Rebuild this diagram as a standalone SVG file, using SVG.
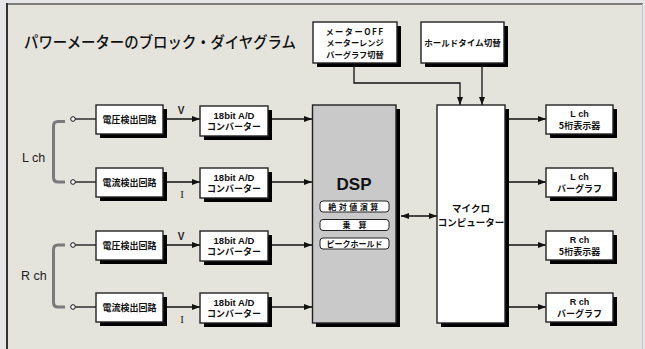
<svg xmlns="http://www.w3.org/2000/svg" width="645" height="349" viewBox="0 0 645 349">
<defs>
<style>
.bx{fill:#fff;stroke:#222;stroke-width:1.4}
.sh{fill:#000}
.t{font-family:"Noto Sans CJK JP","Liberation Sans",sans-serif;font-weight:bold;fill:#111;text-anchor:middle}
.ln{stroke:#111;stroke-width:1.3;fill:none}
.br{stroke:#7a7a7a;stroke-width:3;fill:none}
.lb{font-family:"Liberation Sans","Noto Sans CJK JP",sans-serif;fill:#222}
.en{font-family:"Liberation Sans",sans-serif}
</style>
<marker id="ah" viewBox="0 0 8 6" refX="8" refY="3" markerWidth="8" markerHeight="6" markerUnits="userSpaceOnUse" orient="auto-start-reverse">
<path d="M0,0 L8,3 L0,6 Z" fill="#111"/>
</marker>
</defs>
<rect x="0" y="0" width="645" height="349" fill="#e6e6e8"/>
<rect x="6" y="3" width="637" height="346" fill="#e4e3dc"/>
<line x1="6" y1="4" x2="643" y2="4" stroke="#7c7c7c" stroke-width="2"/>
<line x1="7" y1="3" x2="7" y2="349" stroke="#333" stroke-width="2"/>
<line x1="642.5" y1="4" x2="642.5" y2="349" stroke="#c8c8c8" stroke-width="1"/>

<text x="24" y="48" font-family="Noto Sans CJK JP,sans-serif" font-size="16" font-weight="500" fill="#111" textLength="272" lengthAdjust="spacingAndGlyphs">パワーメーターのブロック・ダイヤグラム</text>

<g id="connectors">
<polyline class="ln" points="354,63 354,83 460,83 460,105" marker-end="url(#ah)"/>
<line class="ln" x1="482" y1="63" x2="482" y2="105" marker-end="url(#ah)"/>
<g id="terminals">
<circle cx="73" cy="119" r="2.3" fill="#fff" stroke="#111" stroke-width="1"/>
<circle cx="73" cy="182" r="2.3" fill="#fff" stroke="#111" stroke-width="1"/>
<circle cx="73" cy="245" r="2.3" fill="#fff" stroke="#111" stroke-width="1"/>
<circle cx="73" cy="307" r="2.3" fill="#fff" stroke="#111" stroke-width="1"/>
</g>
<line class="ln" x1="75.3" y1="119" x2="96" y2="119"/>
<line class="ln" x1="75.3" y1="182" x2="96" y2="182"/>
<line class="ln" x1="75.3" y1="245" x2="96" y2="245"/>
<line class="ln" x1="75.3" y1="307" x2="96" y2="307"/>
<line class="ln" x1="163" y1="119" x2="200" y2="119" marker-end="url(#ah)"/>
<line class="ln" x1="163" y1="182" x2="200" y2="182" marker-end="url(#ah)"/>
<line class="ln" x1="163" y1="245" x2="200" y2="245" marker-end="url(#ah)"/>
<line class="ln" x1="163" y1="307" x2="200" y2="307" marker-end="url(#ah)"/>
<line class="ln" x1="272" y1="119" x2="312" y2="119" marker-end="url(#ah)"/>
<line class="ln" x1="272" y1="182" x2="312" y2="182" marker-end="url(#ah)"/>
<line class="ln" x1="272" y1="245" x2="312" y2="245" marker-end="url(#ah)"/>
<line class="ln" x1="272" y1="307" x2="312" y2="307" marker-end="url(#ah)"/>
<line class="ln" x1="401" y1="216" x2="437" y2="216" marker-start="url(#ah)" marker-end="url(#ah)"/>
<line class="ln" x1="509" y1="119" x2="546" y2="119" marker-end="url(#ah)"/>
<line class="ln" x1="509" y1="182" x2="546" y2="182" marker-end="url(#ah)"/>
<line class="ln" x1="509" y1="245" x2="546" y2="245" marker-end="url(#ah)"/>
<line class="ln" x1="509" y1="307" x2="546" y2="307" marker-end="url(#ah)"/>
<path class="br" d="M65,121.5 H58 Q53.5,121.5 53.5,126 V177.5 Q53.5,182 58,182 H65"/>
<path class="br" d="M65,245 H58 Q53.5,245 53.5,249.5 V302.5 Q53.5,307 58,307 H65"/>
<text class="lb" x="181" y="114" font-size="10" font-weight="bold" text-anchor="middle">V</text>
<text x="182" y="198" font-size="11" font-family="Liberation Serif,serif" fill="#222" text-anchor="middle">I</text>
<text class="lb" x="181" y="240" font-size="10" font-weight="bold" text-anchor="middle">V</text>
<text x="182" y="323" font-size="11" font-family="Liberation Serif,serif" fill="#222" text-anchor="middle">I</text>
</g>

<text class="lb" x="22" y="162" font-size="12.5">L ch</text>
<text class="lb" x="21" y="280" font-size="12.5">R ch</text>

<g id="meter-switch">
<rect class="sh" x="317" y="26" width="84" height="41"/>
<rect class="bx" x="313" y="22" width="84" height="41"/>
<text class="t" font-size="8.2" x="355" y="34.5" letter-spacing="1.5">メーターOFF</text>
<text class="t" font-size="8.2" x="355" y="46">メーターレンジ</text>
<text class="t" font-size="8.2" x="355" y="57.5">バーグラフ切替</text>
</g>
<g id="hold-time">
<rect class="sh" x="425" y="26" width="83" height="41"/>
<rect class="bx" x="421" y="22" width="83" height="41"/>
<text class="t" font-size="8.5" x="462.5" y="46">ホールドタイム切替</text>
</g>

<g id="v-det-l">
<rect class="sh" x="100" y="109" width="67" height="29"/>
<rect class="bx" x="96" y="105" width="67" height="29"/>
<text class="t" font-size="9" x="129.5" y="122.5">電圧検出回路</text>
</g>
<g id="i-det-l">
<rect class="sh" x="100" y="172" width="67" height="29"/>
<rect class="bx" x="96" y="168" width="67" height="29"/>
<text class="t" font-size="9" x="129.5" y="185.5">電流検出回路</text>
</g>
<g id="v-det-r">
<rect class="sh" x="100" y="235" width="67" height="29"/>
<rect class="bx" x="96" y="231" width="67" height="29"/>
<text class="t" font-size="9" x="129.5" y="248.5">電圧検出回路</text>
</g>
<g id="i-det-r">
<rect class="sh" x="100" y="297" width="67" height="29"/>
<rect class="bx" x="96" y="293" width="67" height="29"/>
<text class="t" font-size="9" x="129.5" y="310.5">電流検出回路</text>
</g>

<g id="adc-1">
<rect class="sh" x="204" y="110" width="68" height="30"/>
<rect class="bx" x="200" y="106" width="68" height="30"/>
<text class="t en" font-size="9.5" x="234" y="118.5">18bit A/D</text>
<text class="t" font-size="9" x="234" y="130" font-weight="normal">コンバーター</text>
</g>
<g id="adc-2">
<rect class="sh" x="204" y="172" width="68" height="30"/>
<rect class="bx" x="200" y="168" width="68" height="30"/>
<text class="t en" font-size="9.5" x="234" y="180.5">18bit A/D</text>
<text class="t" font-size="9" x="234" y="192" font-weight="normal">コンバーター</text>
</g>
<g id="adc-3">
<rect class="sh" x="204" y="235" width="68" height="30"/>
<rect class="bx" x="200" y="231" width="68" height="30"/>
<text class="t en" font-size="9.5" x="234" y="243.5">18bit A/D</text>
<text class="t" font-size="9" x="234" y="255" font-weight="normal">コンバーター</text>
</g>
<g id="adc-4">
<rect class="sh" x="204" y="297" width="68" height="30"/>
<rect class="bx" x="200" y="293" width="68" height="30"/>
<text class="t en" font-size="9.5" x="234" y="305.5">18bit A/D</text>
<text class="t" font-size="9" x="234" y="317" font-weight="normal">コンバーター</text>
</g>

<g id="dsp">
<rect class="sh" x="316" y="109" width="84" height="218"/>
<rect x="312.5" y="105" width="83.5" height="218" fill="#c9c9c9" stroke="#222" stroke-width="1.4"/>
<text class="t en" font-size="17" x="354" y="190">DSP</text>
<rect x="320" y="201" width="69" height="11" rx="3" fill="#fff" stroke="#222" stroke-width="1"/>
<text class="t" font-size="8" x="354.5" y="209.5" letter-spacing="2.5">絶対値演算</text>
<rect x="320" y="219.5" width="69" height="11" rx="3" fill="#fff" stroke="#222" stroke-width="1"/>
<text class="t" font-size="8" x="354.5" y="228" xml:space="preserve">乗　算</text>
<rect x="320" y="238" width="69" height="11" rx="3" fill="#fff" stroke="#222" stroke-width="1"/>
<text class="t" font-size="8" x="354.5" y="246.5" font-weight="normal">ピークホールド</text>
</g>

<g id="micro">
<rect class="sh" x="441" y="109" width="68" height="218"/>
<rect class="bx" x="437" y="105" width="68" height="218"/>
<text class="t" font-size="9.5" x="471" y="212" font-weight="normal">マイクロ</text>
<text class="t" font-size="9.5" x="471" y="226" font-weight="normal">コンピューター</text>
</g>

<g id="out-l-digit">
<rect class="sh" x="550" y="109" width="67" height="29"/>
<rect class="bx" x="546" y="105" width="67" height="29"/>
<text class="t en" font-size="9" x="579.5" y="117">L ch</text>
<text class="t" font-size="9" x="579.5" y="128.5" font-weight="normal">5桁表示器</text>
</g>
<g id="out-l-bar">
<rect class="sh" x="550" y="172" width="67" height="29"/>
<rect class="bx" x="546" y="168" width="67" height="29"/>
<text class="t en" font-size="9" x="579.5" y="180">L ch</text>
<text class="t" font-size="9" x="579.5" y="191.5" font-weight="normal">バーグラフ</text>
</g>
<g id="out-r-digit">
<rect class="sh" x="550" y="235" width="67" height="29"/>
<rect class="bx" x="546" y="231" width="67" height="29"/>
<text class="t en" font-size="9" x="579.5" y="243">R ch</text>
<text class="t" font-size="9" x="579.5" y="254.5" font-weight="normal">5桁表示器</text>
</g>
<g id="out-r-bar">
<rect class="sh" x="550" y="297" width="67" height="29"/>
<rect class="bx" x="546" y="293" width="67" height="29"/>
<text class="t en" font-size="9" x="579.5" y="305">R ch</text>
<text class="t" font-size="9" x="579.5" y="316.5" font-weight="normal">バーグラフ</text>
</g>
</svg>
